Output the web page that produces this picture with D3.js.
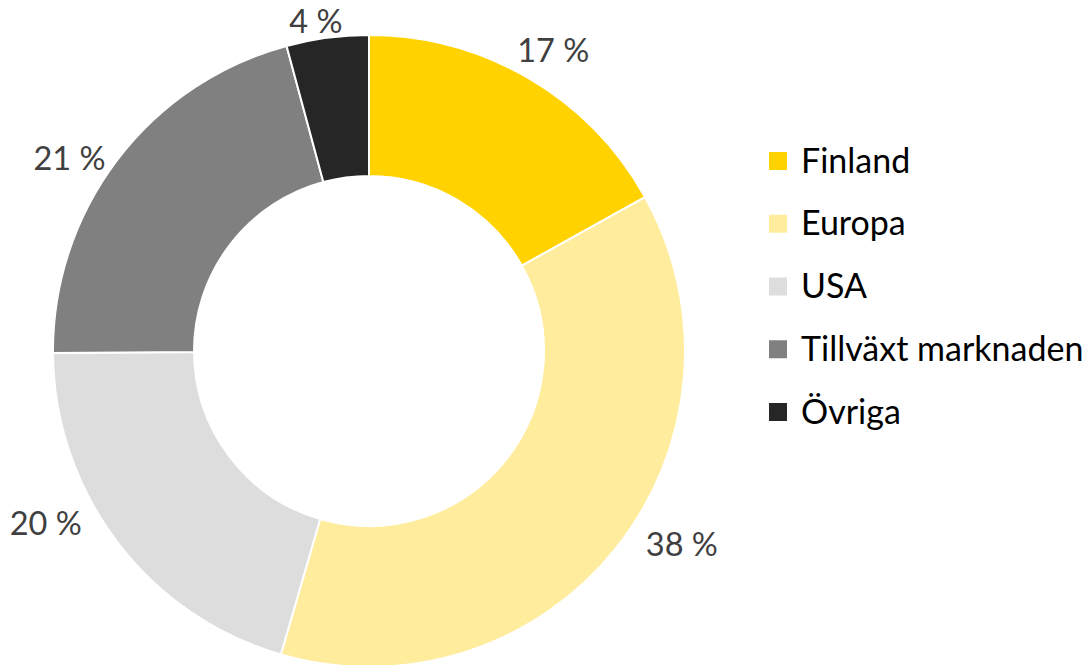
<!DOCTYPE html>
<html>
<head>
<meta charset="utf-8">
<script src="https://cdn.jsdelivr.net/npm/d3@7"></script>
<style>
  html, body { margin: 0; padding: 0; background: #fff; }
  svg { display: block; }
  text { font-family: Lato, "Open Sans", sans-serif; }
</style>
</head>
<body>
<svg id="chart" width="1091" height="665"></svg>
<script>
// ---- data ----
const categories = ["Finland", "Europa", "USA", "Tillväxt marknaden", "Övriga"];
const values = [16.9, 37.6, 20.4, 20.9, 4.2];
const labels = ["17 %", "38 %", "20 %", "21 %", "4 %"];

// ---- styles / layout ----
const colors = ["#FFD200", "#FFEC9C", "#DDDDDD", "#808080", "#262626"];
const labelNudge = [[7, 13], [39, -13], [-44, -27], [-21, 31], [-7, 29]];

const W = 1091, H = 665;
const cx = 369, cy = 351;
const outerR = 316, innerR = 175, labelR = 350;

const svg = d3.select("#chart");
const data = categories.map((c, i) => ({ name: c, value: values[i], label: labels[i], color: colors[i], nudge: labelNudge[i] }));

const pie = d3.pie().value(d => d.value).sort(null);
const arcs = pie(data);
const arc = d3.arc().innerRadius(innerR).outerRadius(outerR);
const labelArc = d3.arc().innerRadius(labelR).outerRadius(labelR);

const g = svg.append("g").attr("transform", `translate(${cx},${cy})`);
g.selectAll("path.slice").data(arcs).join("path")
  .attr("class", "slice")
  .attr("d", arc)
  .attr("fill", d => d.data.color)
  .attr("stroke", "#fff")
  .attr("stroke-width", 2)
  .attr("stroke-linejoin", "round");

g.selectAll("text.lbl").data(arcs).join("text")
  .attr("class", "lbl")
  .attr("x", d => labelArc.centroid(d)[0] + d.data.nudge[0])
  .attr("y", d => labelArc.centroid(d)[1] + d.data.nudge[1])
  .attr("text-anchor", "middle")
  .attr("fill", "#404040")
  .attr("font-size", 32.5)
  .text(d => d.data.label);

// ---- legend ----
const legendY = d3.scalePoint().domain(categories).range([161, 412]);
const legend = svg.append("g");
const items = legend.selectAll("g").data(data).join("g")
  .attr("transform", d => `translate(769,${legendY(d.name)})`);
items.append("rect")
  .attr("x", 0).attr("y", -9).attr("width", 18).attr("height", 18)
  .attr("fill", d => d.color);
items.append("text")
  .attr("x", 32).attr("y", 11.5)
  .attr("fill", "#000")
  .attr("font-size", 34)
  .text(d => d.name);
</script>
</body>
</html>
